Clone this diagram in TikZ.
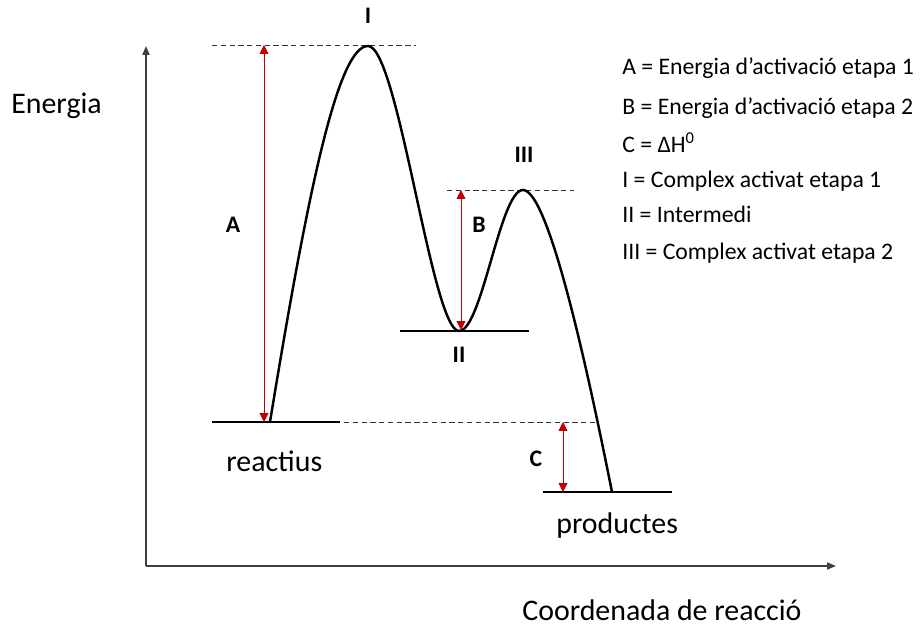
\documentclass[tikz,border=0pt]{standalone}
\usepackage{fontspec}
\setmainfont{Carlito}
\usepackage{xcolor}
\usetikzlibrary{arrows.meta, positioning}
\definecolor{gapred}{RGB}{192, 0, 0}
\definecolor{axisgray}{RGB}{64, 64, 64}

\begin{document}
\begin{tikzpicture}[
          x=0.02cm, y=-0.02cm,
          levelLine/.style={line width=1.4pt, draw=black},
          guideLine/.style={densely dashed, line width=0.5pt, draw=black!80},
          gapArrow/.style={{Triangle[width=5pt,length=5pt]}-{Triangle[width=5pt,length=5pt]}, line width=0.5pt, draw=gapred, fill=gapred},
          axisArrow/.style={-{Triangle[width=4pt,length=5pt]}, line width=0.8pt, draw=axisgray},
          stateLabel/.style={font=\fontsize{13.5}{16}\selectfont\bfseries, inner sep=0pt},
          legendText/.style={anchor=base west, font=\fontsize{13.5}{16}\selectfont, inner sep=0pt},
          axisText/.style={anchor=base west, font=\fontsize{17}{20}\selectfont, inner sep=0pt}
        ]
          \useasboundingbox (0,0) rectangle (921,625);

          % axes
          \coordinate (origin) at (146,566);
          \coordinate (yEnd) at (146,46);
          \coordinate (xEnd) at (836,566);
          \draw[axisArrow] (origin) -- (yEnd);
          \draw[axisArrow] (origin) -- (xEnd);
          \node[axisText] (yTitle) at (11,114) {Energia};
          \node[axisText] (xTitle) at (522,620) {Coordenada de reacció};

          % energy levels
          \coordinate (reacL) at (212,422);
          \coordinate (reacR) at (340,422);
          \coordinate (interL) at (400,331);
          \coordinate (interR) at (529,331);
          \coordinate (prodL) at (543,492);
          \coordinate (prodR) at (672,492);
          \draw[levelLine] (reacL) -- (reacR);
          \draw[levelLine] (interL) -- (interR);
          \draw[levelLine] (prodL) -- (prodR);
          \node[axisText] (reactius) at (226,471) {reactius};
          \node[axisText] (productes) at (556,533) {productes};

          % dashed guides
          \coordinate (topL) at (212,45);
          \coordinate (topR) at (416,45);
          \coordinate (midL) at (447,190);
          \coordinate (midR) at (574,190);
          \coordinate (reacGuideL) at (344,422);
          \coordinate (reacGuideR) at (598,422);
          \draw[guideLine] (topL) -- (topR);
          \draw[guideLine] (midL) -- (midR);
          \draw[guideLine] (reacGuideL) -- (reacGuideR);

          % reaction path
          \draw[line width=1.4pt] (270,422)
            .. controls (308,190) and (338,46) .. (368,46)
            .. controls (398,46) and (432,331) .. (459,331)
            .. controls (482,331) and (500,190) .. (523,190)
            .. controls (550,190) and (592,392) .. (612,492);

          % gaps
          \coordinate (aTop) at (264,45);
          \coordinate (aBot) at (264,422);
          \coordinate (bTop) at (461,190);
          \coordinate (bBot) at (461,330);
          \coordinate (cTop) at (563,422);
          \coordinate (cBot) at (563,492);
          \draw[gapArrow] (aBot) -- (aTop);
          \draw[gapArrow] (bBot) -- (bTop);
          \draw[gapArrow] (cBot) -- (cTop);
          \node[stateLabel] (labA) at (233,225) {A};
          \node[stateLabel] (labB) at (479,225) {B};
          \node[stateLabel] (labC) at (536,459) {C};
          \node[stateLabel] (labI) at (368,16) {I};
          \node[stateLabel] (labII) at (459,355) {II};
          \node[stateLabel] (labIII) at (524,155) {III};

          % legend
          \node[legendText] (legA) at (622,75) {A = Energia d’activació etapa 1};
          \node[legendText] (legB) at (622,115) {B = Energia d’activació etapa 2};
          \node[legendText] (legC) at (622,153) {C = ΔH\textsuperscript{0}};
          \node[legendText] (legI) at (622,188) {I = Complex activat etapa 1};
          \node[legendText] (legII) at (622,223) {II = Intermedi};
          \node[legendText] (legIII) at (622,260) {III = Complex activat etapa 2};
        \end{tikzpicture}
\end{document}
